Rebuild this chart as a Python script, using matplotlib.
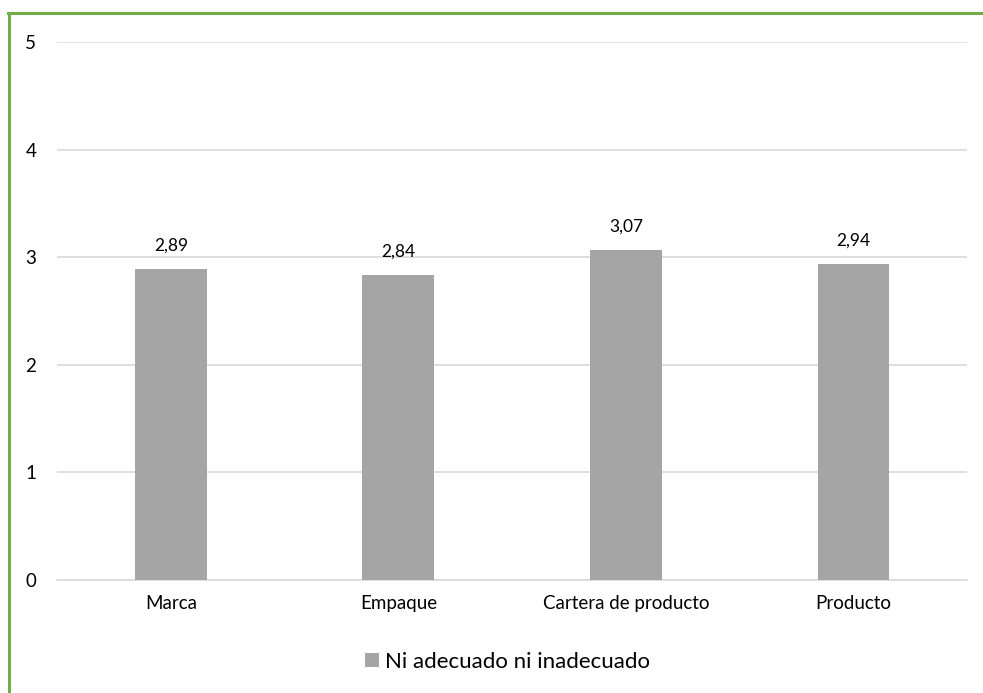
import matplotlib.pyplot as plt
from matplotlib.lines import Line2D

# Valoración media por dimensión
categories = ['Marca', 'Empaque', 'Cartera de producto', 'Producto']
values = [2.89, 2.84, 3.07, 2.94]
value_labels = ['2,89', '2,84', '3,07', '2,94']
series_name = 'Ni adecuado ni inadecuado'
y_ticks = [0, 1, 2, 3, 4, 5]

plt.rcParams['font.family'] = ['Lato', 'DejaVu Sans']

fig = plt.figure(figsize=(9.83, 6.93), dpi=100)
ax = fig.add_axes([0.058, 0.163, 0.926, 0.776])

x = range(len(categories))
bars = ax.bar(x, values, width=0.316, color='#a5a5a5', label=series_name, zorder=3)

for rect, txt in zip(bars, value_labels):
    ax.annotate(txt, (rect.get_x() + rect.get_width() / 2, rect.get_height()),
                xytext=(0, 11), textcoords='offset points',
                ha='center', va='bottom', fontsize=12.5, color='#000000')

ax.set_xlim(-0.5, len(categories) - 0.5)
ax.set_ylim(0, 5)
ax.set_yticks(y_ticks)
ax.set_yticklabels([str(t) for t in y_ticks], fontsize=13.5)
ax.set_xticks(list(x))
ax.set_xticklabels(categories, fontsize=13.5)
ax.tick_params(axis='both', length=0)
ax.tick_params(axis='y', pad=15)
ax.tick_params(axis='x', pad=11)

ax.grid(axis='y', color='#d9d9d9', linewidth=1.2, zorder=0)
for side in ['top', 'right', 'left']:
    ax.spines[side].set_visible(False)
ax.spines['bottom'].set_color('#d9d9d9')
ax.spines['bottom'].set_linewidth(1.2)

leg = fig.legend(loc='center', bbox_to_anchor=(0.516, 0.045), frameon=False,
                 fontsize=16, handlelength=0.65, handleheight=0.65, handletextpad=0.25)

# green frame along the left and top edges
fig.add_artist(Line2D([0.0095, 0.0095], [0.0, 0.981], color='#70ad47', linewidth=2.2,
                      transform=fig.transFigure))
fig.add_artist(Line2D([0.0085, 1.0], [0.981, 0.981], color='#70ad47', linewidth=2.2,
                      transform=fig.transFigure))

fig.savefig('out.png', dpi=100)
